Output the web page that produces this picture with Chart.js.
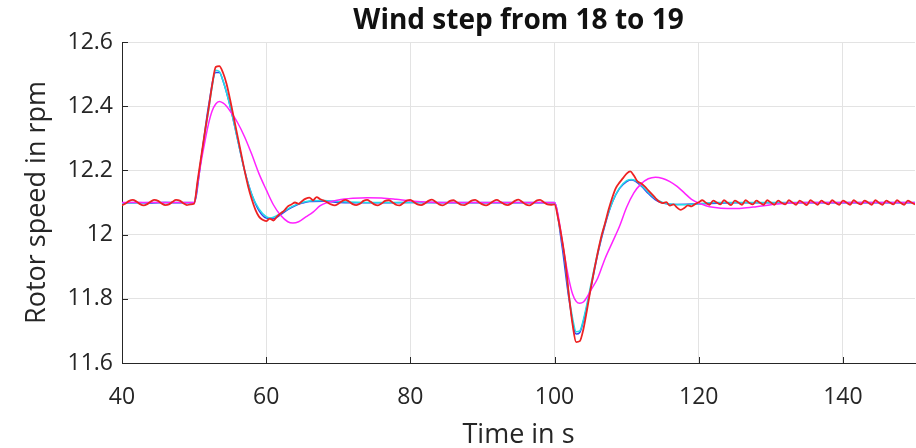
<!DOCTYPE html>
<html>
<head>
<meta charset="utf-8">
<title>Wind step from 18 to 19</title>
<script src="https://cdn.jsdelivr.net/npm/chart.js@4.4.1/dist/chart.umd.min.js"></script>
<style>
  html, body { margin: 0; padding: 0; background: #fff; }
  #chart { display: block; }
</style>
</head>
<body>
<canvas id="chart" width="916" height="448"></canvas>
<script>
// axis ticks
const xTicks = [40, 60, 80, 100, 120, 140];
const yTicks = [11.6, 11.8, 12, 12.2, 12.4, 12.6];
const yTickLabels = ['11.6', '11.8', '12', '12.2', '12.4', '12.6'];

// red run, sampled every 0.5 s
const redTime = [
  40, 40.5, 41, 41.5, 42, 42.5, 43, 43.5, 44, 44.5, 45, 45.5, 46, 46.5, 47, 47.5, 48, 48.5, 49, 49.5,
  50, 50.5, 51, 51.5, 52, 52.5, 53, 53.5, 54, 54.5, 55, 55.5, 56, 56.5, 57, 57.5, 58, 58.5, 59, 59.5,
  60, 60.5, 61, 61.5, 62, 62.5, 63, 63.5, 64, 64.5, 65, 65.5, 66, 66.5, 67, 67.5, 68, 68.5, 69, 69.5,
  70, 70.5, 71, 71.5, 72, 72.5, 73, 73.5, 74, 74.5, 75, 75.5, 76, 76.5, 77, 77.5, 78, 78.5, 79, 79.5,
  80, 80.5, 81, 81.5, 82, 82.5, 83, 83.5, 84, 84.5, 85, 85.5, 86, 86.5, 87, 87.5, 88, 88.5, 89, 89.5,
  90, 90.5, 91, 91.5, 92, 92.5, 93, 93.5, 94, 94.5, 95, 95.5, 96, 96.5, 97, 97.5, 98, 98.5, 99, 99.5,
  100, 100.5, 101, 101.5, 102, 102.5, 103, 103.5, 104, 104.5, 105, 105.5, 106, 106.5, 107, 107.5, 108, 108.5, 109, 109.5,
  110, 110.5, 111, 111.5, 112, 112.5, 113, 113.5, 114, 114.5, 115, 115.5, 116, 116.5, 117, 117.5, 118, 118.5, 119, 119.5,
  120, 120.5, 121, 121.5, 122, 122.5, 123, 123.5, 124, 124.5, 125, 125.5, 126, 126.5, 127, 127.5, 128, 128.5, 129, 129.5,
  130, 130.5, 131, 131.5, 132, 132.5, 133, 133.5, 134, 134.5, 135, 135.5, 136, 136.5, 137, 137.5, 138, 138.5, 139, 139.5,
  140, 140.5, 141, 141.5, 142, 142.5, 143, 143.5, 144, 144.5, 145, 145.5, 146, 146.5, 147, 147.5, 148, 148.5, 149, 149.5,
  150
];
const redSpeed = [
  12.091, 12.097, 12.105, 12.108, 12.103, 12.095, 12.091, 12.095, 12.103, 12.108, 12.105, 12.097, 12.092, 12.094, 12.102, 12.108, 12.106, 12.098, 12.092, 12.094,
  12.096, 12.17, 12.245, 12.32, 12.39, 12.465, 12.522, 12.525, 12.505, 12.47, 12.42, 12.365, 12.31, 12.255, 12.2, 12.15, 12.11, 12.078, 12.056, 12.046,
  12.042, 12.05, 12.044, 12.056, 12.066, 12.075, 12.088, 12.094, 12.1, 12.096, 12.105, 12.112, 12.115, 12.107, 12.117, 12.11, 12.106, 12.1, 12.094, 12.091,
  12.096, 12.104, 12.108, 12.103, 12.095, 12.092, 12.096, 12.105, 12.108, 12.102, 12.094, 12.091, 12.097, 12.105, 12.107, 12.101, 12.093, 12.091, 12.098, 12.106,
  12.108, 12.101, 12.094, 12.092, 12.097, 12.105, 12.109, 12.102, 12.094, 12.091, 12.097, 12.105, 12.107, 12.1, 12.093, 12.092, 12.098, 12.106, 12.108, 12.101,
  12.094, 12.091, 12.096, 12.104, 12.108, 12.102, 12.095, 12.092, 12.097, 12.105, 12.109, 12.102, 12.094, 12.091, 12.097, 12.106, 12.108, 12.101, 12.094, 12.093,
  12.094, 12.05, 11.99, 11.915, 11.81, 11.72, 11.665, 11.668, 11.705, 11.765, 11.83, 11.89, 11.945, 11.995, 12.035, 12.078, 12.115, 12.145, 12.162, 12.176,
  12.19, 12.197, 12.184, 12.166, 12.16, 12.15, 12.138, 12.126, 12.114, 12.103, 12.098, 12.101, 12.09, 12.094, 12.084, 12.077, 12.083, 12.091, 12.088, 12.095,
  12.101, 12.107, 12.099, 12.093, 12.106, 12.1, 12.094, 12.107, 12.099, 12.092, 12.106, 12.1, 12.093, 12.107, 12.099, 12.094, 12.106, 12.099, 12.093, 12.107,
  12.1, 12.093, 12.106, 12.099, 12.094, 12.107, 12.1, 12.093, 12.106, 12.099, 12.092, 12.107, 12.1, 12.093, 12.106, 12.099, 12.094, 12.107, 12.099, 12.093,
  12.106, 12.1, 12.093, 12.107, 12.099, 12.094, 12.106, 12.1, 12.093, 12.107, 12.099, 12.093, 12.106, 12.1, 12.094, 12.107, 12.099, 12.093, 12.106, 12.1,
  12.094
];

// cyan run
const cyanTime = [
  40, 45, 50, 50.5, 51, 51.5, 52, 52.5, 53, 53.5, 54, 55, 56, 57, 58, 59, 60, 60.5, 61, 62, 63, 64, 65, 66, 68, 70, 75,
  100, 100.5, 101, 101.5, 102, 102.5, 103, 103.5, 104, 104.5, 105, 106, 107, 108, 109, 110, 110.7, 111.5, 112, 113, 114, 115, 116, 118, 120, 122, 150
];
const cyanSpeed = [
  12.098, 12.1, 12.1, 12.165, 12.24, 12.315, 12.385, 12.46, 12.512, 12.508, 12.48, 12.4, 12.3, 12.2, 12.125, 12.08, 12.056, 12.052, 12.054, 12.066, 12.08, 12.092, 12.1, 12.105, 12.106, 12.103, 12.1,
  12.1, 12.05, 11.985, 11.91, 11.81, 11.74, 11.697, 11.7, 11.735, 11.785, 11.84, 11.945, 12.035, 12.1, 12.145, 12.168, 12.172, 12.165, 12.155, 12.132, 12.112, 12.1, 12.095, 12.093, 12.096, 12.1, 12.1
];

// magenta run
const magentaTime = [
  40, 50, 50.5, 51, 51.5, 52, 52.5, 53, 53.5, 54, 54.5, 55, 56, 57, 58, 59, 60, 61, 62, 63, 63.7, 64.5, 65.5, 66.5, 67.5, 68.5, 70, 72, 74, 76, 78, 80, 83, 86,
  100, 100.5, 101, 101.5, 102, 102.5, 103, 103.5, 104, 104.5, 105, 106, 107, 108, 109, 110, 111, 112, 113, 114, 115, 116, 117, 118, 119, 120, 121, 122, 124, 126, 128, 130, 132, 135, 150
];
const magentaSpeed = [
  12.1, 12.1, 12.16, 12.23, 12.29, 12.345, 12.385, 12.407, 12.415, 12.41, 12.4, 12.385, 12.35, 12.305, 12.25, 12.19, 12.14, 12.093, 12.06, 12.04, 12.036, 12.04, 12.055, 12.07, 12.09, 12.1, 12.108, 12.113, 12.115, 12.114, 12.11, 12.105, 12.101, 12.1,
  12.1, 12.06, 11.99, 11.92, 11.86, 11.815, 11.792, 11.786, 11.79, 11.805, 11.825, 11.865, 11.925, 11.975, 12.025, 12.085, 12.13, 12.158, 12.174, 12.179, 12.175, 12.165, 12.15, 12.13, 12.11, 12.098, 12.09, 12.085, 12.081, 12.082, 12.087, 12.093, 12.098, 12.1, 12.1
];

// blue run (mostly hidden under the others)
const blueTime = [
  40, 42, 44, 46, 48, 50, 51, 52, 53, 53.5, 54, 55, 56, 57, 58, 59, 60, 61, 62, 63, 64, 65, 66, 68, 70, 75, 80, 90,
  100, 101, 102, 103, 103.5, 104, 105, 106, 107, 108, 109, 110, 110.7, 112, 113, 114, 115, 117, 120, 125, 150
];
const blueSpeed = [
  12.099, 12.1, 12.098, 12.1, 12.099, 12.099, 12.24, 12.4, 12.505, 12.505, 12.48, 12.4, 12.3, 12.2, 12.125, 12.075, 12.052, 12.05, 12.062, 12.078, 12.09, 12.098, 12.103, 12.104, 12.1, 12.099, 12.1, 12.099,
  12.099, 11.97, 11.8, 11.69, 11.695, 11.73, 11.83, 11.94, 12.03, 12.1, 12.143, 12.165, 12.17, 12.152, 12.128, 12.108, 12.098, 12.094, 12.096, 12.099, 12.099
];

const textColor = '#262626';
const axisColor = '#262626';
const gridColor = '#e3e3e3';

function pairs(ts, vs) {
  return ts.map((t, i) => ({ x: t, y: vs[i] }));
}

// MATLAB-like ticks pointing into the plot box
const innerTicks = {
  id: 'innerTicks',
  afterDraw(chart) {
    const { ctx, chartArea: a, scales: { x, y } } = chart;
    ctx.save();
    ctx.strokeStyle = axisColor;
    ctx.lineWidth = 1;
    ctx.beginPath();
    xTicks.forEach(v => {
      const px = Math.round(x.getPixelForValue(v)) + 0.5;
      ctx.moveTo(px, a.bottom);
      ctx.lineTo(px, a.bottom - 6);
    });
    yTicks.forEach(v => {
      const py = Math.round(y.getPixelForValue(v)) + 0.5;
      ctx.moveTo(a.left, py);
      ctx.lineTo(a.left + 6, py);
    });
    ctx.stroke();
    ctx.restore();
  }
};

const line = (data, color, width) => ({
  data,
  borderColor: color,
  borderWidth: width,
  pointRadius: 0,
  fill: false,
  cubicInterpolationMode: 'monotone'
});

new Chart(document.getElementById('chart'), {
  type: 'line',
  data: {
    datasets: [
      line(pairs(redTime, redSpeed), '#ee2222', 1.8),
      line(pairs(magentaTime, magentaSpeed), '#ff22ff', 1.5),
      line(pairs(cyanTime, cyanSpeed), '#22dde8', 1.5),
      line(pairs(blueTime, blueSpeed), '#3344ee', 1.5)
    ]
  },
  options: {
    responsive: false,
    animation: false,
    layout: { padding: { left: 0, right: 1, top: 0, bottom: 0 } },
    plugins: {
      legend: { display: false },
      tooltip: { enabled: false },
      title: {
        display: true,
        fullSize: false,
        text: 'Wind step from 18 to 19',
        color: '#111',
        font: { family: 'Open Sans', size: 28, weight: 'bold' },
        padding: { top: 4, bottom: 4.4 }
      }
    },
    scales: {
      x: {
        type: 'linear',
        min: 40,
        max: 150,
        afterBuildTicks: s => { s.ticks = xTicks.map(v => ({ value: v })); },
        afterFit: s => { s.height = 85; },
        grid: { color: gridColor, lineWidth: 1, drawTicks: false },
        border: { display: true, color: axisColor, width: 1 },
        ticks: {
          color: textColor,
          padding: 21,
          maxRotation: 0,
          font: { family: 'Open Sans', size: 23 }
        },
        title: {
          display: true,
          text: 'Time in s',
          color: textColor,
          font: { family: 'Open Sans', size: 27 },
          padding: { top: 0, bottom: -4 }
        }
      },
      y: {
        type: 'linear',
        min: 11.6,
        max: 12.6,
        afterBuildTicks: s => { s.ticks = yTicks.map(v => ({ value: v })); },
        afterFit: s => { s.width = 122; },
        grid: { color: gridColor, lineWidth: 1, drawTicks: false },
        border: { display: true, color: axisColor, width: 1 },
        ticks: {
          color: textColor,
          padding: 9,
          font: { family: 'Open Sans', size: 23 },
          callback: (v, i) => yTickLabels[i]
        },
        title: {
          display: true,
          text: 'Rotor speed in rpm',
          color: textColor,
          font: { family: 'Open Sans', size: 27 },
          padding: { top: 21, bottom: 0 }
        }
      }
    }
  },
  plugins: [innerTicks]
});
</script>
</body>
</html>
